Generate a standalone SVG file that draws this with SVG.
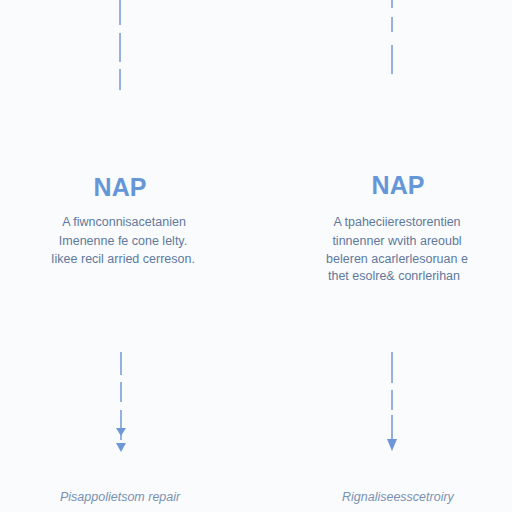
<svg xmlns="http://www.w3.org/2000/svg" width="512" height="512" viewBox="0 0 512 512">
<defs>
<style>
.bg{fill:#fafbfc}
.conn{stroke:#7d9ed6;stroke-width:1.6;fill:none}
.head{fill:#6e97d8}
.title{font-family:"Liberation Sans",Arial,sans-serif;font-size:25px;font-weight:bold;fill:#6596d8;text-anchor:middle}
.body{font-family:"Liberation Sans",Arial,sans-serif;font-size:12.5px;fill:#5f799c;text-anchor:middle}
.foot{font-family:"Liberation Sans",Arial,sans-serif;font-size:12.5px;font-style:italic;fill:#7891b2}
</style>
</defs>
<rect class="bg" x="0" y="0" width="512" height="512"/>
<g id="connectors">
<path class="conn" d="M120,0 V25 M120,33 V62 M120,69 V90"/>
<path class="conn" d="M392,0 V8 M392,17 V32 M392,45 V74"/>
<path class="conn" d="M121,352 V375 M121,382 V402 M121,410 V440"/>
<path class="head" d="M116,428 L126,428 L121,436 Z"/>
<path class="head" d="M116,443 L126,443 L121,452 Z"/>
<path class="conn" d="M392,352 V383 M392,390 V410 M392,415 V442"/>
<path class="head" d="M387,439 L397,439 L392,451 Z"/>
</g>
<g id="node-left">
<text class="title" x="120" y="196">NAP</text>
<text class="body" x="124" y="226">A fiwnconnisacetanien</text>
<text class="body" x="123" y="245">Imenenne fe cone lelty.</text>
<text class="body" x="123" y="263">Iikee recil arried cerreson.</text>
</g>
<g id="node-right">
<text class="title" x="398" y="194">NAP</text>
<text class="body" x="397" y="226">A tpaheciierestorentien</text>
<text class="body" x="397" y="245">tinnenner wvith areoubl</text>
<text class="body" x="397" y="263">beleren acarlerlesoruan e</text>
<text class="body" x="394" y="280">thet esolre&amp; conrlerihan</text>
</g>
<g id="foot-left">
<text class="foot" x="60" y="501">Pisappolietsom repair</text>
</g>
<g id="foot-right">
<text class="foot" x="342" y="501">Rignaliseesscetroiry</text>
</g>
</svg>
